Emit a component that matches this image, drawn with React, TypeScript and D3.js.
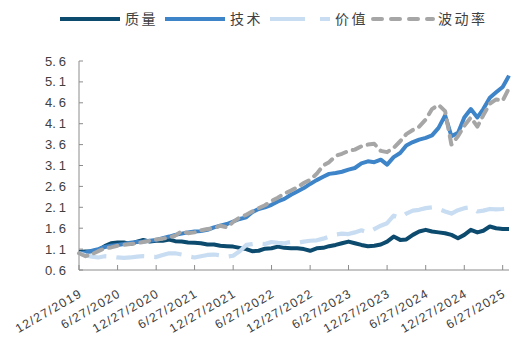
import React from "react";
import * as d3 from "d3";

const START = new Date(2019, 11, 27);
const END = new Date(2025, 6, 27);

const seriesNames = ["质量", "技术", "价值", "波动率"];

const qualityValues = [
  1.03, 1.04, 1.05, 1.08, 1.17, 1.24, 1.26, 1.26, 1.22, 1.28,
  1.32, 1.28, 1.3, 1.3, 1.33, 1.29, 1.28, 1.26, 1.25, 1.24,
  1.21, 1.21, 1.18, 1.17, 1.16, 1.13, 1.1, 1.05, 1.06, 1.11,
  1.12, 1.16, 1.13, 1.12, 1.12, 1.1, 1.06, 1.12, 1.13, 1.17,
  1.2, 1.24, 1.28, 1.24, 1.2, 1.17, 1.18, 1.21, 1.28, 1.4,
  1.32, 1.33, 1.44, 1.52, 1.56, 1.52, 1.5, 1.48, 1.44, 1.36,
  1.44, 1.56, 1.5, 1.54, 1.64, 1.6, 1.58, 1.58,
];

const techValues = [
  1.0, 1.02, 1.06, 1.1, 1.15, 1.18, 1.2, 1.22, 1.25, 1.27,
  1.28, 1.3, 1.32, 1.36, 1.4, 1.44, 1.47, 1.5, 1.52, 1.53,
  1.56, 1.62, 1.66, 1.7, 1.76, 1.82, 1.86, 1.98, 2.06, 2.1,
  2.16, 2.24, 2.3, 2.4, 2.48, 2.56, 2.66, 2.75, 2.83, 2.9,
  2.92, 2.95, 3.0, 3.04, 3.15, 3.2, 3.18, 3.24, 3.12, 3.3,
  3.4, 3.58, 3.66, 3.72, 3.76, 3.82, 4.0, 4.3, 3.8, 3.88,
  4.25, 4.45, 4.25, 4.45, 4.72, 4.85, 4.98, 5.25,
];

const valueValues = [
  1.0, 0.95, 0.92, 0.9, 0.93, 0.92, 0.9, 0.89, 0.9, 0.92,
  0.93, 0.92, 0.91, 0.96, 1.0, 1.0, 0.97, 0.93, 0.9, 0.93,
  0.96, 0.97, 0.95, 0.92, 0.94, 1.05, 1.2, 1.22, 1.24, 1.22,
  1.27, 1.25, 1.24, 1.27, 1.25, 1.28, 1.3, 1.31, 1.35, 1.4,
  1.45, 1.47, 1.46, 1.5, 1.55, 1.5, 1.58, 1.66, 1.72, 1.9,
  1.85, 1.95, 2.02, 2.04, 2.08, 2.1, 2.06, 2.0, 1.95, 2.03,
  2.08, 2.1, 2.0, 2.02, 2.06, 2.05, 2.06, 2.08,
];

const volValues = [
  1.0, 0.93, 0.98, 1.05, 1.12, 1.14, 1.18, 1.2, 1.22, 1.24,
  1.27, 1.3, 1.33, 1.35, 1.38, 1.42, 1.53, 1.48, 1.5, 1.55,
  1.58, 1.6, 1.66, 1.62, 1.75, 1.86, 1.92, 2.0, 2.08, 2.15,
  2.25, 2.33, 2.43, 2.5, 2.58, 2.68, 2.76, 2.9, 3.1, 3.18,
  3.33, 3.38, 3.45, 3.48, 3.56, 3.6, 3.62, 3.45, 3.42, 3.52,
  3.68, 3.85, 3.95, 4.03, 4.2, 4.45, 4.55, 4.4, 3.6, 3.8,
  4.05, 4.25, 4.03, 4.3, 4.58, 4.68, 4.65, 4.95,
];

const yTicks = [0.6, 1.1, 1.6, 2.1, 2.6, 3.1, 3.6, 4.1, 4.6, 5.1, 5.6];

const xTickLabels = [
  "12/27/2019", "6/27/2020", "12/27/2020", "6/27/2021", "12/27/2021", "6/27/2022",
  "12/27/2022", "6/27/2023", "12/27/2023", "6/27/2024", "12/27/2024", "6/27/2025",
];

const COLORS = ["#0c4a6e", "#3d84c8", "#c8ddf2", "#a6a6a6"];
const WIDTHS = [4, 4, 4.2, 4];
const DASHES = [undefined, undefined, "28 10", "9 7"];
const CAPS = ["butt", "butt", "butt", "round"];
const LEGEND_DASHES = [undefined, undefined, "35 15", "9 9"];

export default function App() {
  const W = 519;
  const H = 342;
  const x = d3.scaleTime().domain([START, END]).range([79, 509]);
  const y = d3.scaleLinear().domain([0.6, 5.6]).range([270, 61]);
  const parse = d3.timeParse("%m/%d/%Y");
  const all = [qualityValues, techValues, valueValues, volValues];
  const dates = qualityValues.map((_, i) => d3.timeMonth.offset(START, i));
  const line = d3
    .line<number>()
    .x((_, i) => x(dates[i]))
    .y((d) => y(d));

  const legendX = [60, 165, 270, 373];
  const textFont = "'Liberation Sans', Arial, sans-serif";
  const cjkFont = "'Noto Sans CJK SC', sans-serif";

  return (
    <svg
      width={W}
      height={H}
      style={{ position: "absolute", left: 0, top: 0, background: "#fff" }}
    >
      {/* legend */}
      {seriesNames.map((name, i) => (
        <g key={name}>
          <line
            x1={legendX[i]}
            x2={legendX[i] + 60}
            y1={19}
            y2={19}
            stroke={COLORS[i]}
            strokeWidth={4}
            strokeDasharray={LEGEND_DASHES[i]}
            strokeLinecap={CAPS[i] as any}
          />
          <text
            x={legendX[i] + 65}
            y={24}
            fontFamily={cjkFont}
            fontSize={14}
            letterSpacing={2.5}
            fill="#404040"
          >
            {name}
          </text>
        </g>
      ))}

      {/* y axis */}
      <line x1={79} x2={79} y1={y(5.6)} y2={y(0.6)} stroke="#8c8c8c" strokeWidth={1} />
      {yTicks.map((t) => {
        const [a, b] = t.toFixed(1).split(".");
        return (
          <g key={t}>
            <line x1={79} x2={83} y1={y(t)} y2={y(t)} stroke="#8c8c8c" strokeWidth={1} />
            <text
              x={66}
              y={y(t) + 4.5}
              textAnchor="end"
              fontFamily={textFont}
              fontSize={13}
              fill="#404040"
            >
              <tspan>{a}.</tspan>
              <tspan dx={3}>{b}</tspan>
            </text>
          </g>
        );
      })}

      {/* x axis */}
      <line x1={79} x2={509} y1={270} y2={270} stroke="#8c8c8c" strokeWidth={1} />
      {xTickLabels.map((lab) => {
        const d = parse(lab) as Date;
        const px = x(d);
        return (
          <g key={lab}>
            <line x1={px} x2={px} y1={270} y2={265} stroke="#8c8c8c" strokeWidth={1} />
            <text
              transform={`translate(${px + 4},${296}) rotate(-30)`}
              textAnchor="end"
              fontFamily={textFont}
              fontSize={12.5}
              letterSpacing={1.2}
              fill="#404040"
            >
              {lab}
            </text>
          </g>
        );
      })}

      {/* series */}
      {all.map((vals, i) => (
        <path
          key={i}
          d={line(vals) || ""}
          fill="none"
          stroke={COLORS[i]}
          strokeWidth={WIDTHS[i]}
          strokeDasharray={DASHES[i]}
          strokeLinecap={CAPS[i] as any}
          strokeLinejoin="round"
        />
      ))}
    </svg>
  );
}
